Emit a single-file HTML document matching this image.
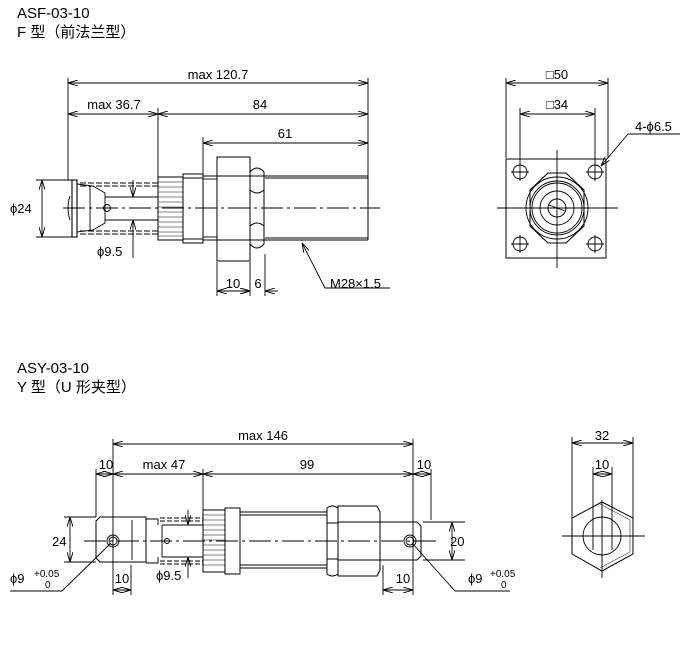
<!DOCTYPE html>
<html><head><meta charset="utf-8"><style>
html,body{margin:0;padding:0;background:#fff;}
svg{display:block;}
text{font-family:"Liberation Sans","Noto Sans CJK SC",sans-serif;fill:#000;}
</style></head><body>
<svg width="689" height="646" viewBox="0 0 689 646" xmlns="http://www.w3.org/2000/svg">
<defs>
<marker id="a" viewBox="0 0 10 6" refX="10" refY="3" markerWidth="10" markerHeight="6" orient="auto-start-reverse" markerUnits="userSpaceOnUse"><path d="M0,0 L10,3 L0,6" fill="none" stroke="#000" stroke-width="0.9"/></marker>
</defs>
<g font-size="15">
<text x="17" y="18">ASF-03-10</text>
<text x="17" y="37">F 型（前法兰型）</text>
<text x="17" y="373">ASY-03-10</text>
<text x="17" y="392">Y 型（U 形夹型）</text>
</g>
<g stroke="#000" stroke-width="0.9" fill="none">
<line x1="63" y1="208" x2="380" y2="208" stroke-dasharray="22,4,3,4"/>
<line x1="68" y1="78" x2="68" y2="180"/>
<line x1="368" y1="78" x2="368" y2="176"/>
<line x1="158" y1="108" x2="158" y2="177"/>
<line x1="203" y1="137" x2="203" y2="174"/>
<line x1="68" y1="83" x2="368" y2="83" marker-start="url(#a)" marker-end="url(#a)"/>
<line x1="68" y1="114" x2="158" y2="114" marker-start="url(#a)" marker-end="url(#a)"/>
<line x1="158" y1="114" x2="368" y2="114" marker-start="url(#a)" marker-end="url(#a)"/>
<line x1="203" y1="143" x2="368" y2="143" marker-start="url(#a)" marker-end="url(#a)"/>
<line x1="36" y1="180" x2="72" y2="180"/><line x1="36" y1="237" x2="72" y2="237"/>
<line x1="42" y1="180" x2="42" y2="237" marker-start="url(#a)" marker-end="url(#a)"/>
<rect x="72" y="180" width="5" height="57" stroke-width="1.1"/>
<path d="M70,196 Q66,208 70,220"/>
<path d="M77,184 L93,186 L105,193 L105,223 L93,230 L77,232 Z"/>
<line x1="90" y1="186" x2="90" y2="230"/>
<circle cx="107" cy="208" r="3.5"/><line x1="103" y1="208" x2="111" y2="208"/>
<line x1="80" y1="183" x2="158" y2="183" stroke-dasharray="6,2"/>
<line x1="80" y1="186" x2="158" y2="186" stroke-dasharray="6,2"/>
<line x1="80" y1="231" x2="158" y2="231" stroke-dasharray="6,2"/>
<line x1="80" y1="234" x2="158" y2="234" stroke-dasharray="6,2"/>
<line x1="105" y1="197" x2="158" y2="197"/><line x1="105" y1="220" x2="158" y2="220"/>
<line x1="133" y1="180" x2="133" y2="197" marker-end="url(#a)"/>
<line x1="133" y1="258" x2="133" y2="220" marker-end="url(#a)"/>
<rect x="158" y="177" width="25" height="63" stroke-width="1"/>
<path d="M158,182H183M158,187H183M158,192H183M158,197H183M158,202H183M158,207H183M158,212H183M158,217H183M158,222H183M158,227H183M158,232H183M158,236H183" stroke-width="0.5"/>
<rect x="183" y="174" width="20" height="69" stroke-width="1"/>
<line x1="183" y1="178" x2="203" y2="178"/><line x1="183" y1="239" x2="203" y2="239"/>
<line x1="203" y1="176" x2="368" y2="176" stroke-width="1"/><line x1="203" y1="179" x2="217" y2="179"/>
<line x1="203" y1="240" x2="368" y2="240" stroke-width="1"/><line x1="203" y1="237" x2="217" y2="237"/>
<line x1="368" y1="176" x2="368" y2="240" stroke-width="1"/>
<line x1="265" y1="178" x2="368" y2="178"/><line x1="265" y1="238" x2="368" y2="238"/>
<rect x="217" y="157" width="33" height="104" stroke-width="1"/>
<path d="M250,172 Q257,164 264,172 L264,190 Q257,196 250,190 Z M250,190 L250,226 M264,190 L264,226 M250,226 Q257,220 264,226 L264,244 Q257,252 250,244 Z" stroke-width="1"/>
<line x1="217" y1="262" x2="217" y2="296"/><line x1="250" y1="262" x2="250" y2="296"/><line x1="265" y1="254" x2="265" y2="296"/>
<line x1="217" y1="291" x2="250" y2="291" marker-start="url(#a)" marker-end="url(#a)"/>
<line x1="250" y1="291" x2="235" y2="291" marker-start="url(#a)"/>
<line x1="265" y1="291" x2="278" y2="291" marker-start="url(#a)"/>
<line x1="302" y1="243" x2="325" y2="288" marker-start="url(#a)"/>
<line x1="325" y1="288" x2="390" y2="288"/>
<line x1="506" y1="78" x2="506" y2="158"/><line x1="608" y1="78" x2="608" y2="158"/>
<line x1="520" y1="108" x2="520" y2="165"/><line x1="595" y1="108" x2="595" y2="165"/>
<line x1="506" y1="83" x2="608" y2="83" marker-start="url(#a)" marker-end="url(#a)"/>
<line x1="520" y1="114" x2="595" y2="114" marker-start="url(#a)" marker-end="url(#a)"/>
<rect x="506" y="159" width="100" height="99" stroke-width="1"/>
<line x1="497" y1="208" x2="618" y2="208"/><line x1="557" y1="150" x2="557" y2="268"/>
<circle cx="520" cy="172" r="7"/><circle cx="595" cy="172" r="7"/><circle cx="520" cy="244" r="7"/><circle cx="595" cy="244" r="7"/>
<path d="M511,172H529M520,163V181M586,172H604M595,163V181M511,244H529M520,235V253M586,244H604M595,235V253"/>
<path d="M548,173 L566,173 L584,190 L584,226 L566,243 L548,243 L530,226 L530,190 Z" stroke-width="1"/>
<circle cx="557" cy="208" r="31"/><circle cx="557" cy="208" r="27"/><circle cx="557" cy="208" r="25"/>
<circle cx="557" cy="208" r="17"/><circle cx="557" cy="208" r="9"/>
<line x1="549" y1="205" x2="565" y2="211"/>
<line x1="601" y1="166" x2="628" y2="134" marker-start="url(#a)"/><line x1="628" y1="134" x2="680" y2="134"/>
<line x1="84" y1="541" x2="440" y2="541" stroke-dasharray="22,4,3,4"/>
<line x1="113" y1="439" x2="113" y2="595"/><line x1="413" y1="439" x2="413" y2="595"/>
<line x1="96" y1="469" x2="96" y2="517"/><line x1="203" y1="469" x2="203" y2="510"/>
<line x1="431" y1="469" x2="431" y2="520"/>
<line x1="113" y1="444" x2="413" y2="444" marker-start="url(#a)" marker-end="url(#a)"/>
<line x1="96" y1="474" x2="113" y2="474" marker-start="url(#a)" marker-end="url(#a)"/>
<line x1="113" y1="474" x2="203" y2="474" marker-start="url(#a)" marker-end="url(#a)"/>
<line x1="203" y1="474" x2="413" y2="474" marker-start="url(#a)" marker-end="url(#a)"/>
<line x1="413" y1="474" x2="431" y2="474" marker-start="url(#a)" marker-end="url(#a)"/>
<line x1="64" y1="517" x2="96" y2="517"/><line x1="64" y1="562" x2="96" y2="562"/>
<line x1="70" y1="517" x2="70" y2="562" marker-start="url(#a)" marker-end="url(#a)"/>
<path d="M100,517 L146,517 L146,562 L100,562 L96,558 L96,521 Z" stroke-width="1"/>
<line x1="132" y1="520" x2="132" y2="560"/>
<path d="M146,519 L158,519 L158,525 M146,563 L158,563 L158,557" />
<circle cx="113" cy="541" r="6"/><circle cx="113" cy="541" r="4"/>
<circle cx="167" cy="541" r="2.5"/>
<line x1="160" y1="518" x2="203" y2="518" stroke-dasharray="5,2"/><line x1="160" y1="521" x2="203" y2="521" stroke-dasharray="5,2"/>
<line x1="160" y1="561" x2="203" y2="561" stroke-dasharray="5,2"/><line x1="160" y1="564" x2="203" y2="564" stroke-dasharray="5,2"/>
<line x1="162" y1="525" x2="162" y2="557"/>
<line x1="162" y1="525" x2="203" y2="525"/><line x1="162" y1="557" x2="203" y2="557"/>
<line x1="188" y1="510" x2="188" y2="525" marker-end="url(#a)"/>
<line x1="188" y1="578" x2="188" y2="557" marker-end="url(#a)"/>
<rect x="203" y="510" width="22" height="62" stroke-width="1"/>
<path d="M203,515H225M203,520H225M203,525H225M203,530H225M203,535H225M203,540H225M203,545H225M203,550H225M203,555H225M203,560H225M203,565H225" stroke-width="0.5"/>
<rect x="225" y="508" width="15" height="66" stroke-width="1"/>
<rect x="240" y="512" width="87" height="56" stroke-width="1"/>
<line x1="240" y1="515" x2="327" y2="515"/><line x1="240" y1="565" x2="327" y2="565"/>
<path d="M327,508 Q332,504 338,508 L338,574 Q332,578 327,574 Z M327,523H338M327,559H338" stroke-width="1"/>
<path d="M338,506 L377,506 L380,512 L380,570 L377,576 L338,576 Z M338,522H380M338,560H380" stroke-width="1"/>
<path d="M380,522 L417,522 L421,526 L421,556 L417,560 L380,560" stroke-width="1"/>
<circle cx="410" cy="541" r="6"/><circle cx="410" cy="541" r="4"/>
<line x1="423" y1="522" x2="465" y2="522"/><line x1="423" y1="560" x2="465" y2="560"/>
<line x1="452" y1="522" x2="452" y2="560" marker-start="url(#a)" marker-end="url(#a)"/>
<line x1="131" y1="565" x2="131" y2="595"/><line x1="383" y1="565" x2="383" y2="595"/>
<line x1="113" y1="590" x2="131" y2="590" marker-start="url(#a)" marker-end="url(#a)"/>
<line x1="383" y1="590" x2="413" y2="590" marker-start="url(#a)" marker-end="url(#a)"/>
<line x1="111" y1="543" x2="62" y2="591"/><line x1="62" y1="591" x2="10" y2="591"/>
<line x1="412" y1="543" x2="455" y2="591"/><line x1="455" y1="591" x2="510" y2="591"/>
<line x1="572" y1="437" x2="572" y2="520"/><line x1="633" y1="437" x2="633" y2="520"/>
<line x1="593" y1="467" x2="593" y2="550"/><line x1="612" y1="467" x2="612" y2="550"/>
<line x1="572" y1="443" x2="633" y2="443" marker-start="url(#a)" marker-end="url(#a)"/>
<line x1="593" y1="474" x2="612" y2="474" marker-start="url(#a)" marker-end="url(#a)"/>
<path d="M602,502 L633,518 L633,554 L602,571 L572,554 L572,518 Z" stroke-width="1"/>
<path d="M600,504 L630,520 L630,552 L600,568" stroke-width="0.5"/>
<circle cx="602" cy="536" r="19"/>
<line x1="562" y1="536" x2="645" y2="536"/><line x1="602" y1="500" x2="602" y2="578"/>
</g>
<g font-size="13">
<text x="218" y="79" text-anchor="middle">max 120.7</text>
<text x="114" y="109" text-anchor="middle">max 36.7</text>
<text x="260" y="109" text-anchor="middle">84</text>
<text x="285" y="138" text-anchor="middle">61</text>
<text x="10" y="213">ϕ24</text>
<text x="97" y="256">ϕ9.5</text>
<text x="233" y="288" text-anchor="middle">10</text>
<text x="258" y="288" text-anchor="middle">6</text>
<text x="330" y="288">M28×1.5</text>
<text x="557" y="79" text-anchor="middle">□50</text>
<text x="557" y="109" text-anchor="middle">□34</text>
<text x="635" y="131">4-ϕ6.5</text>
<text x="263" y="440" text-anchor="middle">max 146</text>
<text x="106" y="469" text-anchor="middle">10</text>
<text x="164" y="469" text-anchor="middle">max 47</text>
<text x="307" y="469" text-anchor="middle">99</text>
<text x="424" y="469" text-anchor="middle">10</text>
<text x="52" y="546">24</text>
<text x="450" y="546">20</text>
<text x="122" y="583" text-anchor="middle">10</text>
<text x="403" y="583" text-anchor="middle">10</text>
<text x="156" y="580">ϕ9.5</text>
<text x="10" y="583">ϕ9</text>
<text x="468" y="583">ϕ9</text>
<text x="602" y="440" text-anchor="middle">32</text>
<text x="602" y="469" text-anchor="middle">10</text>
</g>
<g font-size="10">
<text x="34" y="577">+0.05</text><text x="45" y="588">0</text>
<text x="490" y="577">+0.05</text><text x="501" y="588">0</text>
</g>
</svg>
</body></html>
